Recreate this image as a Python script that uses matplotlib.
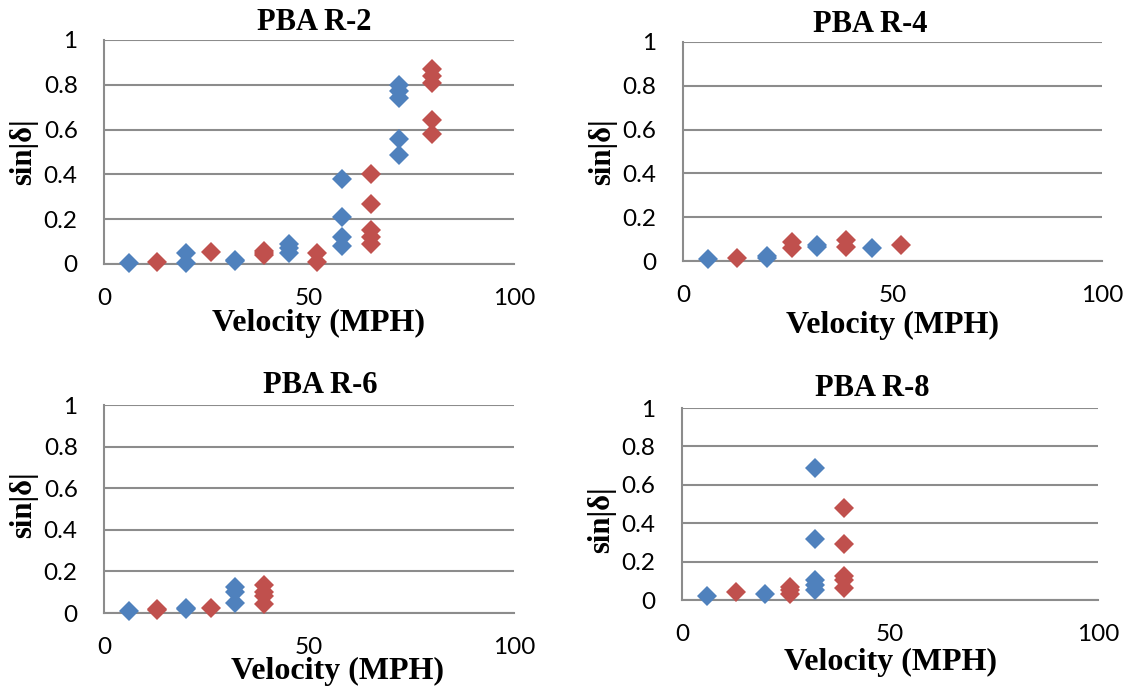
import matplotlib
matplotlib.use("Agg")
import matplotlib.pyplot as plt

# PBA R-2
r2_blue_x = [6, 20, 20, 32, 32, 45, 45, 45, 58, 58, 58, 58, 72, 72, 72, 72, 72]
r2_blue_y = [0.005, 0.05, 0.005, 0.015, 0.02, 0.05, 0.07, 0.09, 0.38, 0.21, 0.12, 0.08,
             0.80, 0.77, 0.74, 0.56, 0.485]
r2_red_x = [13, 26, 39, 39, 39, 52, 52, 65, 65, 65, 65, 65, 80, 80, 80, 80, 80]
r2_red_y = [0.01, 0.055, 0.04, 0.05, 0.06, 0.05, 0.01, 0.40, 0.27, 0.15, 0.12, 0.09,
            0.87, 0.84, 0.81, 0.645, 0.58]

# PBA R-4
r4_blue_x = [6, 20, 20, 32, 32, 45]
r4_blue_y = [0.01, 0.015, 0.025, 0.065, 0.075, 0.06]
r4_red_x = [13, 26, 26, 39, 39, 52]
r4_red_y = [0.012, 0.06, 0.085, 0.065, 0.095, 0.075]

# PBA R-6
r6_blue_x = [6, 20, 20, 32, 32, 32]
r6_blue_y = [0.011, 0.019, 0.025, 0.124, 0.10, 0.047]
r6_red_x = [13, 13, 26, 39, 39, 39, 39]
r6_red_y = [0.014, 0.02, 0.024, 0.137, 0.10, 0.084, 0.044]

# PBA R-8
r8_blue_x = [6, 20, 32, 32, 32, 32, 32]
r8_blue_y = [0.022, 0.031, 0.686, 0.32, 0.104, 0.078, 0.052]
r8_red_x = [13, 26, 26, 26, 39, 39, 39, 39, 39]
r8_red_y = [0.04, 0.069, 0.05, 0.031, 0.48, 0.29, 0.124, 0.104, 0.061]

titles = ["PBA R-2", "PBA R-4", "PBA R-6", "PBA R-8"]
x_ticks = [0, 50, 100]
y_ticks = [0, 0.2, 0.4, 0.6, 0.8, 1]
y_tick_labels = ["0", "0.2", "0.4", "0.6", "0.8", "1"]

BLUE = "#4F81BD"
RED = "#C0504D"
GRID = "#8c8c8c"
SERIF = "Liberation Serif"

fig = plt.figure(figsize=(11.31, 6.94), dpi=100)

# axes rectangles in figure fraction, plus title / label placement per panel
panels = [
    dict(rect=[0.0920, 0.6196, 0.3625, 0.3228], tx=0.512, tpad=7, lx=0.524, ly=-0.2,
         yx=-0.16, yy=0.5, data=(r2_blue_x, r2_blue_y, r2_red_x, r2_red_y)),
    dict(rect=[0.6039, 0.6239, 0.3705, 0.3156], tx=0.446, tpad=7, lx=0.499, ly=-0.23,
         yx=-0.158, yy=0.5, data=(r4_blue_x, r4_blue_y, r4_red_x, r4_red_y)),
    dict(rect=[0.0920, 0.1167, 0.3625, 0.2997], tx=0.527, tpad=9, lx=0.57, ly=-0.21,
         yx=-0.16, yy=0.52, data=(r6_blue_x, r6_blue_y, r6_red_x, r6_red_y)),
    dict(rect=[0.6030, 0.1354, 0.3678, 0.2767], tx=0.457, tpad=9, lx=0.502, ly=-0.25,
         yx=-0.158, yy=0.42, data=(r8_blue_x, r8_blue_y, r8_red_x, r8_red_y)),
]

for title, p in zip(titles, panels):
    ax = fig.add_axes(p["rect"])
    bx, by, rx, ry = p["data"]
    ax.plot(bx, by, linestyle="none", marker="D", ms=10.5, color=BLUE,
            markeredgewidth=0, zorder=3, clip_on=False)
    ax.plot(rx, ry, linestyle="none", marker="D", ms=10.5, color=RED,
            markeredgewidth=0, zorder=3, clip_on=False)

    ax.set_xlim(0, 100)
    ax.set_ylim(0, 1)
    ax.set_xticks(x_ticks)
    ax.set_yticks(y_ticks)
    ax.set_yticklabels(y_tick_labels)
    ax.tick_params(length=0, labelsize=17.5)
    ax.tick_params(axis="x", pad=17)
    ax.tick_params(axis="y", pad=19)
    for lab in ax.get_xticklabels() + ax.get_yticklabels():
        lab.set_fontfamily("Lato")

    ax.grid(axis="y", color=GRID, linewidth=1.5)
    ax.set_axisbelow(True)
    for side in ["top", "right"]:
        ax.spines[side].set_visible(False)
    for side in ["left", "bottom"]:
        ax.spines[side].set_color(GRID)
        ax.spines[side].set_linewidth(1.5)

    ax.set_title(title, x=p["tx"], pad=p["tpad"], fontsize=22, fontweight="bold",
                 fontfamily=SERIF)
    ax.set_xlabel("Velocity (MPH)", fontsize=23, fontweight="bold", fontfamily=SERIF)
    ax.xaxis.set_label_coords(p["lx"], p["ly"])
    ax.set_ylabel("sin|δ|", fontsize=22, fontweight="bold", fontfamily=SERIF)
    ax.yaxis.set_label_coords(p["yx"], p["yy"])

fig.savefig("out.png", dpi=100)
